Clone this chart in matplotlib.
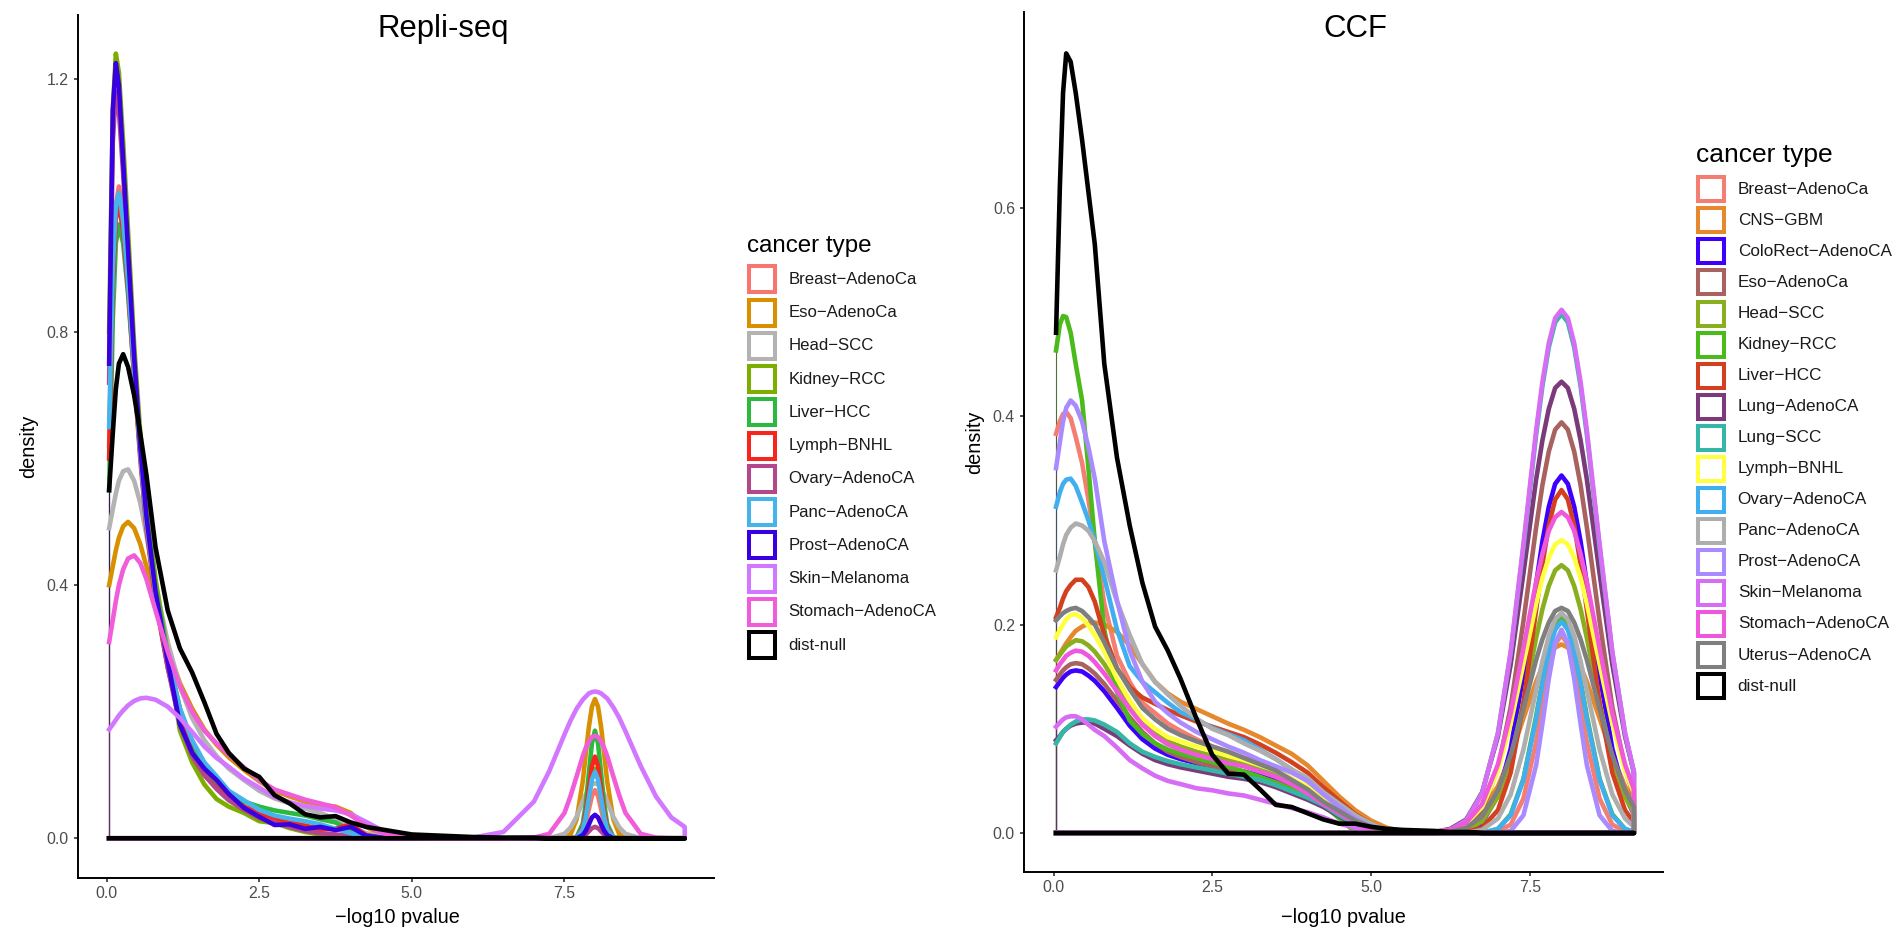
import matplotlib
matplotlib.use('Agg')
import matplotlib.pyplot as plt
from matplotlib.patches import Rectangle

plt.rcParams['font.family'] = ['Liberation Sans', 'DejaVu Sans']

# ---------------- Repli-seq panel (density of -log10 pvalue) ----------------
repli_x = [0.04, 0.1, 0.15, 0.2, 0.27, 0.35, 0.45, 0.55, 0.65, 0.8,
           1.0, 1.2, 1.4, 1.6, 1.8, 2.0, 2.25, 2.5, 2.75, 3.0,
           3.25, 3.5, 3.75, 4.0, 4.25, 4.5, 4.75, 5.0, 5.5, 6.0,
           6.5, 7.0, 7.25, 7.5, 7.6, 7.7, 7.8, 7.85, 7.9, 7.95,
           8.0, 8.05, 8.1, 8.15, 8.2, 8.3, 8.4, 8.5, 8.75, 9.0,
           9.25, 9.47]

rs_breast = [0.62, 0.88, 1.0, 1.03, 0.98, 0.88, 0.74, 0.61, 0.5, 0.38,
             0.28, 0.2, 0.145, 0.11, 0.085, 0.065, 0.05, 0.04, 0.03, 0.025,
             0.02, 0.015, 0.015, 0.01, 0.003, 0.001, 0, 0, 0, 0,
             0, 0, 0, 0, 0, 0.001, 0.01, 0.025, 0.046, 0.067,
             0.076, 0.067, 0.046, 0.025, 0.01, 0.001, 0, 0, 0, 0,
             0, 0]
rs_eso = [0.40, 0.43, 0.455, 0.475, 0.493, 0.50, 0.49, 0.465, 0.43, 0.37,
          0.30, 0.245, 0.205, 0.172, 0.148, 0.128, 0.108, 0.09, 0.075, 0.066,
          0.058, 0.053, 0.05, 0.04, 0.018, 0.006, 0.002, 0, 0, 0,
          0, 0, 0, 0.001, 0.006, 0.03, 0.09, 0.134, 0.176, 0.208,
          0.22, 0.208, 0.176, 0.134, 0.09, 0.03, 0.006, 0.001, 0, 0,
          0, 0]
rs_head = [0.49, 0.52, 0.545, 0.565, 0.58, 0.583, 0.565, 0.53, 0.48, 0.40,
           0.31, 0.24, 0.19, 0.155, 0.13, 0.11, 0.092, 0.075, 0.063, 0.055,
           0.047, 0.04, 0.03, 0.018, 0.008, 0.003, 0.001, 0, 0, 0,
           0, 0, 0, 0.007, 0.017, 0.034, 0.058, 0.069, 0.078, 0.085,
           0.087, 0.085, 0.078, 0.069, 0.058, 0.034, 0.017, 0.007, 0, 0,
           0, 0]
rs_kidney = [0.80, 1.15, 1.24, 1.21, 1.10, 0.96, 0.78, 0.64, 0.53, 0.41,
             0.29, 0.17, 0.12, 0.085, 0.062, 0.05, 0.04, 0.027, 0.024, 0.016,
             0.01, 0.006, 0.004, 0.002, 0.001, 0, 0, 0, 0, 0,
             0, 0, 0, 0, 0, 0.001, 0.015, 0.036, 0.067, 0.097,
             0.11, 0.097, 0.067, 0.036, 0.015, 0.001, 0, 0, 0, 0,
             0, 0]
rs_liver = [0.55, 0.82, 0.94, 0.97, 0.94, 0.86, 0.73, 0.61, 0.51, 0.395,
            0.29, 0.205, 0.15, 0.112, 0.088, 0.072, 0.058, 0.05, 0.044, 0.04,
            0.036, 0.03, 0.025, 0.012, 0.004, 0.001, 0, 0, 0, 0,
            0, 0, 0, 0, 0, 0.002, 0.023, 0.055, 0.103, 0.15,
            0.17, 0.15, 0.103, 0.055, 0.023, 0.002, 0, 0, 0, 0,
            0, 0]
rs_lymph = [0.6, 0.88, 0.98, 1.0, 0.96, 0.87, 0.73, 0.6, 0.49, 0.375,
            0.27, 0.19, 0.135, 0.1, 0.08, 0.062, 0.05, 0.04, 0.032, 0.025,
            0.02, 0.014, 0.015, 0.022, 0.005, 0.001, 0, 0, 0, 0,
            0, 0, 0, 0, 0, 0.001, 0.017, 0.042, 0.078, 0.114,
            0.129, 0.114, 0.078, 0.042, 0.017, 0.001, 0, 0, 0, 0,
            0, 0]
rs_ovary = [0.72, 1.1, 1.18, 1.15, 1.05, 0.91, 0.75, 0.61, 0.5, 0.38,
            0.27, 0.18, 0.13, 0.1, 0.078, 0.06, 0.045, 0.032, 0.025, 0.018,
            0.012, 0.008, 0.006, 0.004, 0.001, 0, 0, 0, 0, 0,
            0, 0, 0, 0, 0, 0, 0.002, 0.006, 0.011, 0.016,
            0.018, 0.016, 0.011, 0.006, 0.002, 0, 0, 0, 0, 0,
            0, 0]
rs_panc = [0.65, 0.9, 1.0, 1.02, 0.975, 0.88, 0.74, 0.61, 0.5, 0.385,
           0.285, 0.205, 0.155, 0.12, 0.098, 0.075, 0.06, 0.045, 0.036, 0.031,
           0.027, 0.022, 0.015, 0.008, 0.003, 0.001, 0, 0, 0, 0,
           0, 0, 0, 0, 0, 0.001, 0.014, 0.034, 0.064, 0.093,
           0.105, 0.093, 0.064, 0.034, 0.014, 0.001, 0, 0, 0, 0,
           0, 0]
rs_prost = [0.75, 1.15, 1.225, 1.19, 1.07, 0.93, 0.76, 0.62, 0.51, 0.39,
            0.28, 0.18, 0.135, 0.11, 0.092, 0.07, 0.048, 0.034, 0.021, 0.022,
            0.015, 0.018, 0.013, 0.018, 0.004, 0.001, 0, 0, 0, 0,
            0, 0, 0, 0, 0, 0, 0.005, 0.012, 0.022, 0.033,
            0.037, 0.033, 0.022, 0.012, 0.005, 0, 0, 0, 0, 0,
            0, 0]
rs_skin = [0.172, 0.18, 0.187, 0.194, 0.202, 0.21, 0.217, 0.221, 0.222, 0.219,
           0.208, 0.19, 0.168, 0.145, 0.127, 0.113, 0.094, 0.08, 0.065, 0.057,
           0.051, 0.047, 0.044, 0.038, 0.026, 0.013, 0.007, 0.004, 0.001, 0.001,
           0.01, 0.058, 0.106, 0.164, 0.186, 0.205, 0.219, 0.224, 0.229, 0.231,
           0.232, 0.231, 0.229, 0.225, 0.221, 0.207, 0.19, 0.169, 0.114, 0.066,
           0.033, 0.018]
rs_stomach = [0.31, 0.345, 0.375, 0.40, 0.425, 0.442, 0.447, 0.435, 0.41, 0.36,
              0.295, 0.24, 0.2, 0.17, 0.15, 0.132, 0.112, 0.092, 0.077, 0.069,
              0.061, 0.055, 0.049, 0.036, 0.02, 0.009, 0.003, 0.001, 0, 0,
              0, 0.001, 0.007, 0.04, 0.067, 0.098, 0.13, 0.143, 0.153, 0.16,
              0.162, 0.16, 0.153, 0.143, 0.13, 0.098, 0.067, 0.04, 0.007, 0.001,
              0, 0]
rs_null = [0.55, 0.64, 0.71, 0.75, 0.765, 0.745, 0.70, 0.64, 0.575, 0.46,
           0.36, 0.30, 0.262, 0.215, 0.165, 0.135, 0.11, 0.097, 0.068, 0.055,
           0.038, 0.033, 0.035, 0.025, 0.018, 0.014, 0.01, 0.006, 0.004, 0.002,
           0.001, 0.001, 0, 0, 0, 0, 0, 0, 0, 0,
           0, 0, 0, 0, 0, 0, 0, 0, 0, 0,
           0, 0]

repli_labels = ['Breast−AdenoCa', 'Eso−AdenoCa', 'Head−SCC', 'Kidney−RCC',
                'Liver−HCC', 'Lymph−BNHL', 'Ovary−AdenoCA', 'Panc−AdenoCA',
                'Prost−AdenoCA', 'Skin−Melanoma', 'Stomach−AdenoCA', 'dist-null']
repli_colors = ['#F8766D', '#D89000', '#B3B3B3', '#7CAE00', '#2DB83F', '#F8251F',
                '#B4468C', '#45B4EB', '#3800E0', '#D277FF', '#F05CDA', '#000000']
repli_series = [rs_breast, rs_eso, rs_head, rs_kidney, rs_liver, rs_lymph,
                rs_ovary, rs_panc, rs_prost, rs_skin, rs_stomach, rs_null]

# ---------------- CCF panel ----------------
ccf_x = [0.04, 0.1, 0.15, 0.2, 0.27, 0.35, 0.45, 0.55, 0.65, 0.8,
         1.0, 1.2, 1.4, 1.6, 1.8, 2.0, 2.25, 2.5, 2.75, 3.0,
         3.25, 3.5, 3.75, 4.0, 4.25, 4.5, 4.75, 5.0, 5.25, 5.5,
         6.0, 6.25, 6.5, 6.75, 7.0, 7.2, 7.4, 7.6, 7.7, 7.8,
         7.9, 8.0, 8.1, 8.2, 8.3, 8.4, 8.6, 8.8, 9.0, 9.14]

cc_breast = [0.383, 0.395, 0.402, 0.404, 0.398, 0.38, 0.355, 0.32, 0.28, 0.22,
             0.17, 0.145, 0.125, 0.115, 0.105, 0.098, 0.09, 0.083, 0.078, 0.072,
             0.067, 0.06, 0.052, 0.043, 0.033, 0.022, 0.012, 0.005, 0.001, 0,
             0, 0, 0, 0, 0.002, 0.008, 0.033, 0.087, 0.122, 0.156,
             0.181, 0.19, 0.181, 0.156, 0.122, 0.087, 0.033, 0.008, 0.002, 0]
cc_cns = [0.166, 0.172, 0.177, 0.182, 0.188, 0.194, 0.198, 0.201, 0.202, 0.2,
          0.193, 0.18, 0.162, 0.145, 0.134, 0.126, 0.119, 0.112, 0.105, 0.099,
          0.092, 0.084, 0.076, 0.065, 0.05, 0.035, 0.022, 0.012, 0.005, 0.002,
          0.001, 0.003, 0.008, 0.021, 0.045, 0.074, 0.11, 0.145, 0.16, 0.171,
          0.178, 0.181, 0.178, 0.171, 0.16, 0.145, 0.11, 0.074, 0.045, 0.03]
cc_colorect = [0.14, 0.145, 0.149, 0.152, 0.155, 0.156, 0.155, 0.151, 0.146, 0.136,
               0.12, 0.103, 0.09, 0.081, 0.075, 0.071, 0.067, 0.064, 0.061, 0.059,
               0.055, 0.05, 0.044, 0.036, 0.027, 0.019, 0.01, 0.004, 0.001, 0,
               0, 0, 0.002, 0.01, 0.036, 0.081, 0.152, 0.239, 0.28, 0.313,
               0.335, 0.343, 0.335, 0.313, 0.28, 0.239, 0.152, 0.081, 0.036, 0.018]
cc_eso = [0.147, 0.152, 0.156, 0.159, 0.162, 0.163, 0.162, 0.158, 0.153, 0.143,
          0.127, 0.111, 0.097, 0.086, 0.078, 0.073, 0.068, 0.064, 0.06, 0.057,
          0.053, 0.049, 0.043, 0.035, 0.026, 0.018, 0.01, 0.004, 0.001, 0,
          0, 0.001, 0.006, 0.022, 0.062, 0.121, 0.203, 0.293, 0.334, 0.366,
          0.387, 0.394, 0.387, 0.366, 0.334, 0.293, 0.203, 0.121, 0.062, 0.035]
cc_head = [0.166, 0.171, 0.175, 0.179, 0.182, 0.185, 0.184, 0.18, 0.174, 0.162,
           0.142, 0.122, 0.106, 0.095, 0.088, 0.083, 0.078, 0.074, 0.07, 0.067,
           0.062, 0.057, 0.05, 0.041, 0.03, 0.02, 0.008, 0.002, 0, 0,
           0, 0.001, 0.003, 0.011, 0.035, 0.071, 0.125, 0.187, 0.215, 0.237,
           0.252, 0.257, 0.252, 0.237, 0.215, 0.187, 0.125, 0.071, 0.035, 0.019]
cc_kidney = [0.463, 0.488, 0.496, 0.495, 0.48, 0.45, 0.415, 0.35, 0.28, 0.195,
             0.135, 0.108, 0.095, 0.086, 0.08, 0.076, 0.072, 0.068, 0.064, 0.059,
             0.054, 0.048, 0.042, 0.035, 0.027, 0.014, 0.001, 0, 0, 0,
             0, 0, 0, 0, 0.004, 0.018, 0.052, 0.112, 0.146, 0.177,
             0.199, 0.207, 0.199, 0.177, 0.146, 0.112, 0.052, 0.018, 0.004, 0.001]
cc_liver = [0.207, 0.216, 0.225, 0.232, 0.238, 0.243, 0.243, 0.236, 0.222, 0.19,
            0.158, 0.14, 0.13, 0.124, 0.118, 0.113, 0.107, 0.102, 0.097, 0.092,
            0.085, 0.077, 0.068, 0.058, 0.044, 0.031, 0.018, 0.009, 0.003, 0.001,
            0, 0, 0.001, 0.005, 0.022, 0.058, 0.124, 0.214, 0.258, 0.295,
            0.32, 0.329, 0.32, 0.295, 0.258, 0.214, 0.124, 0.058, 0.022, 0.01]
cc_lungadeno = [0.089, 0.093, 0.097, 0.1, 0.103, 0.105, 0.106, 0.106, 0.105, 0.1,
                0.093, 0.084, 0.076, 0.07, 0.066, 0.063, 0.06, 0.057, 0.054, 0.052,
                0.049, 0.044, 0.038, 0.032, 0.025, 0.016, 0.008, 0.003, 0.001, 0,
                0.001, 0.004, 0.013, 0.039, 0.093, 0.162, 0.249, 0.339, 0.377, 0.407,
                0.427, 0.433, 0.427, 0.407, 0.377, 0.339, 0.249, 0.162, 0.093, 0.058]
cc_lungscc = [0.086, 0.092, 0.097, 0.1, 0.104, 0.107, 0.109, 0.109, 0.108, 0.104,
              0.097, 0.086, 0.078, 0.073, 0.069, 0.066, 0.063, 0.06, 0.057, 0.054,
              0.051, 0.046, 0.04, 0.034, 0.027, 0.017, 0.009, 0.003, 0.001, 0,
              0, 0.003, 0.012, 0.038, 0.096, 0.173, 0.274, 0.382, 0.429, 0.466,
              0.49, 0.498, 0.49, 0.466, 0.429, 0.382, 0.274, 0.173, 0.096, 0.058]
cc_lymph = [0.188, 0.195, 0.2, 0.205, 0.209, 0.21, 0.206, 0.199, 0.19, 0.174,
            0.148, 0.127, 0.11, 0.1, 0.092, 0.088, 0.083, 0.079, 0.074, 0.07,
            0.065, 0.06, 0.052, 0.045, 0.033, 0.024, 0.013, 0.006, 0.002, 0,
            0.001, 0.003, 0.009, 0.025, 0.06, 0.105, 0.162, 0.22, 0.245, 0.264,
            0.277, 0.281, 0.277, 0.264, 0.245, 0.22, 0.162, 0.105, 0.06, 0.038]
cc_ovary = [0.313, 0.327, 0.335, 0.339, 0.34, 0.333, 0.317, 0.3, 0.28, 0.245,
            0.195, 0.16, 0.145, 0.135, 0.125, 0.116, 0.109, 0.101, 0.095, 0.089,
            0.08, 0.071, 0.061, 0.05, 0.039, 0.028, 0.017, 0.007, 0.002, 0,
            0, 0, 0, 0, 0.004, 0.017, 0.051, 0.109, 0.144, 0.174,
            0.195, 0.203, 0.195, 0.174, 0.144, 0.109, 0.051, 0.017, 0.004, 0.001]
cc_panc = [0.252, 0.265, 0.277, 0.286, 0.293, 0.297, 0.295, 0.29, 0.28, 0.26,
           0.222, 0.19, 0.162, 0.145, 0.133, 0.122, 0.11, 0.1, 0.094, 0.086,
           0.079, 0.071, 0.061, 0.053, 0.039, 0.028, 0.017, 0.009, 0.003, 0.001,
           0, 0, 0, 0.003, 0.014, 0.037, 0.08, 0.137, 0.165, 0.189,
           0.205, 0.211, 0.205, 0.189, 0.165, 0.137, 0.08, 0.037, 0.014, 0.006]
cc_prost = [0.35, 0.375, 0.395, 0.408, 0.415, 0.41, 0.395, 0.37, 0.34, 0.28,
            0.223, 0.175, 0.145, 0.126, 0.115, 0.106, 0.097, 0.09, 0.083, 0.077,
            0.07, 0.064, 0.058, 0.05, 0.037, 0.025, 0.014, 0.006, 0.001, 0,
            0, 0, 0, 0, 0, 0.002, 0.017, 0.065, 0.105, 0.148,
            0.182, 0.195, 0.182, 0.148, 0.105, 0.065, 0.017, 0.002, 0, 0]
cc_skin = [0.102, 0.106, 0.109, 0.111, 0.112, 0.112, 0.109, 0.104, 0.099, 0.093,
           0.082, 0.07, 0.062, 0.055, 0.05, 0.047, 0.043, 0.041, 0.038, 0.036,
           0.032, 0.028, 0.024, 0.02, 0.015, 0.009, 0.005, 0.002, 0.001, 0,
           0.001, 0.003, 0.012, 0.038, 0.096, 0.174, 0.277, 0.386, 0.433, 0.47,
           0.494, 0.502, 0.494, 0.47, 0.433, 0.386, 0.277, 0.174, 0.096, 0.059]
cc_stomach = [0.156, 0.162, 0.166, 0.17, 0.173, 0.175, 0.174, 0.17, 0.164, 0.153,
              0.136, 0.119, 0.104, 0.093, 0.085, 0.08, 0.075, 0.071, 0.067, 0.064,
              0.059, 0.054, 0.047, 0.038, 0.028, 0.019, 0.01, 0.004, 0.001, 0,
              0.001, 0.003, 0.01, 0.028, 0.066, 0.115, 0.177, 0.241, 0.268, 0.29,
              0.303, 0.308, 0.303, 0.29, 0.268, 0.241, 0.177, 0.115, 0.066, 0.042]
cc_uterus = [0.204, 0.208, 0.211, 0.213, 0.215, 0.216, 0.213, 0.207, 0.2, 0.183,
             0.158, 0.138, 0.12, 0.109, 0.1, 0.094, 0.088, 0.083, 0.078, 0.072,
             0.066, 0.06, 0.051, 0.042, 0.03, 0.021, 0.012, 0.006, 0.002, 0,
             0, 0.001, 0.005, 0.016, 0.041, 0.075, 0.119, 0.166, 0.186, 0.202,
             0.213, 0.216, 0.213, 0.202, 0.186, 0.166, 0.119, 0.075, 0.041, 0.025]
cc_null = [0.48, 0.62, 0.71, 0.748, 0.74, 0.71, 0.665, 0.615, 0.565, 0.45,
           0.36, 0.295, 0.24, 0.198, 0.175, 0.148, 0.11, 0.075, 0.057, 0.056,
           0.042, 0.027, 0.025, 0.019, 0.013, 0.009, 0.009, 0.006, 0.004, 0.003,
           0.002, 0.001, 0.001, 0, 0, 0, 0, 0, 0, 0,
           0, 0, 0, 0, 0, 0, 0, 0, 0, 0]

ccf_labels = ['Breast−AdenoCa', 'CNS−GBM', 'ColoRect−AdenoCA', 'Eso−AdenoCa',
              'Head−SCC', 'Kidney−RCC', 'Liver−HCC', 'Lung−AdenoCA', 'Lung−SCC',
              'Lymph−BNHL', 'Ovary−AdenoCA', 'Panc−AdenoCA', 'Prost−AdenoCA',
              'Skin−Melanoma', 'Stomach−AdenoCA', 'Uterus−AdenoCA', 'dist-null']
ccf_colors = ['#F47E72', '#E6892E', '#3D00FF', '#A8625F', '#8AAF1E', '#4BBA1B',
              '#D3401F', '#7B3B7A', '#35B6A6', '#FFFF40', '#41AFEF', '#AEAEAE',
              '#A98BFF', '#D86DF5', '#EF58DB', '#7F7F7F', '#000000']
ccf_series = [cc_breast, cc_cns, cc_colorect, cc_eso, cc_head, cc_kidney,
              cc_liver, cc_lungadeno, cc_lungscc, cc_lymph, cc_ovary, cc_panc,
              cc_prost, cc_skin, cc_stomach, cc_uterus, cc_null]

W, H = 1895, 933
fig = plt.figure(figsize=(W / 100, H / 100), dpi=100)


def style_axes(ax):
    for s in ['top', 'right']:
        ax.spines[s].set_visible(False)
    for s in ['left', 'bottom']:
        ax.spines[s].set_linewidth(1.4)
        ax.spines[s].set_color('black')
    ax.tick_params(axis='both', length=3.2, width=1.2, color='#333333',
                   labelcolor='#4D4D4D', labelsize=11.4)
    ax.tick_params(axis='x', pad=2.8)
    ax.tick_params(axis='y', pad=3.5)


def draw_panel(ax, x, series, colors):
    for y, c in zip(series, colors):
        # outline of the density polygon: curve, right edge, baseline
        ax.plot(x + [x[-1], x[0]], y + [0, 0], color=c, lw=3.3,
                solid_joinstyle='round', zorder=2)
        ax.plot([x[0], x[0]], [0, y[0]], color=c, lw=0.8, alpha=0.5, zorder=1)


# left panel
ax1 = fig.add_axes([78 / W, 1 - 877.7 / H, 636 / W, 863.2 / H])
draw_panel(ax1, repli_x, repli_series, repli_colors)
ax1.set_xlim(-0.47, 9.95)
ax1.set_ylim(-0.0623, 1.3018)
ax1.set_xticks([0, 2.5, 5, 7.5])
ax1.set_xticklabels(['0.0', '2.5', '5.0', '7.5'])
ax1.set_yticks([0, 0.4, 0.8, 1.2])
ax1.set_yticklabels(['0.0', '0.4', '0.8', '1.2'])
style_axes(ax1)

# right panel
ax2 = fig.add_axes([1024.3 / W, 1 - 871.7 / H, 638.8 / W, 860 / H])
draw_panel(ax2, ccf_x, ccf_series, ccf_colors)
ax2.set_xlim(-0.46, 9.6)
ax2.set_ylim(-0.0371, 0.788)
ax2.set_xticks([0, 2.5, 5, 7.5])
ax2.set_xticklabels(['0.0', '2.5', '5.0', '7.5'])
ax2.set_yticks([0, 0.2, 0.4, 0.6])
ax2.set_yticklabels(['0.0', '0.2', '0.4', '0.6'])
style_axes(ax2)

# titles and axis labels, placed in pixel coordinates
def px(xp, yp):
    return xp / W, 1 - yp / H

fig.text(*px(377, 37.3), 'Repli-seq', fontsize=22.4, ha='left', va='baseline')
fig.text(*px(1323, 37.3), 'CCF', fontsize=22.4, ha='left', va='baseline')
fig.text(*px(28.5, 446), 'density', fontsize=14.3, rotation=90, ha='center', va='center')
fig.text(*px(975, 442), 'density', fontsize=14.3, rotation=90, ha='center', va='center')
fig.text(*px(397, 923), '−log10 pvalue', fontsize=14.3, ha='center', va='baseline')
fig.text(*px(1343.7, 923), '−log10 pvalue', fontsize=14.3, ha='center', va='baseline')

# legends drawn on a full-figure overlay in pixel units
ov = fig.add_axes([0, 0, 1, 1])
ov.set_xlim(0, W)
ov.set_ylim(H, 0)
ov.axis('off')


def draw_legend(x0, title_base, title_size, first_y, step, kw, kh, label_x,
                label_size, labels, colors):
    ov.text(x0, title_base, 'cancer type', fontsize=title_size, ha='left', va='baseline')
    for i, (lab, c) in enumerate(zip(labels, colors)):
        cy = first_y + i * step
        ov.add_patch(Rectangle((x0 + 2, cy - kh / 2 + 2), kw - 4, kh - 4,
                               facecolor='white', edgecolor=c, lw=2.9))
        ov.text(label_x, cy, lab, fontsize=label_size, ha='left', va='center',
                color='#1A1A1A')


draw_legend(746.7, 251.7, 17.4, 279.3, 33.25, 30, 30, 788.3, 12.1,
            repli_labels, repli_colors)
draw_legend(1696, 161.7, 19.0, 189.3, 31.05, 30, 28, 1737.7, 12.3,
            ccf_labels, ccf_colors)

fig.savefig('out.png', dpi=100)
